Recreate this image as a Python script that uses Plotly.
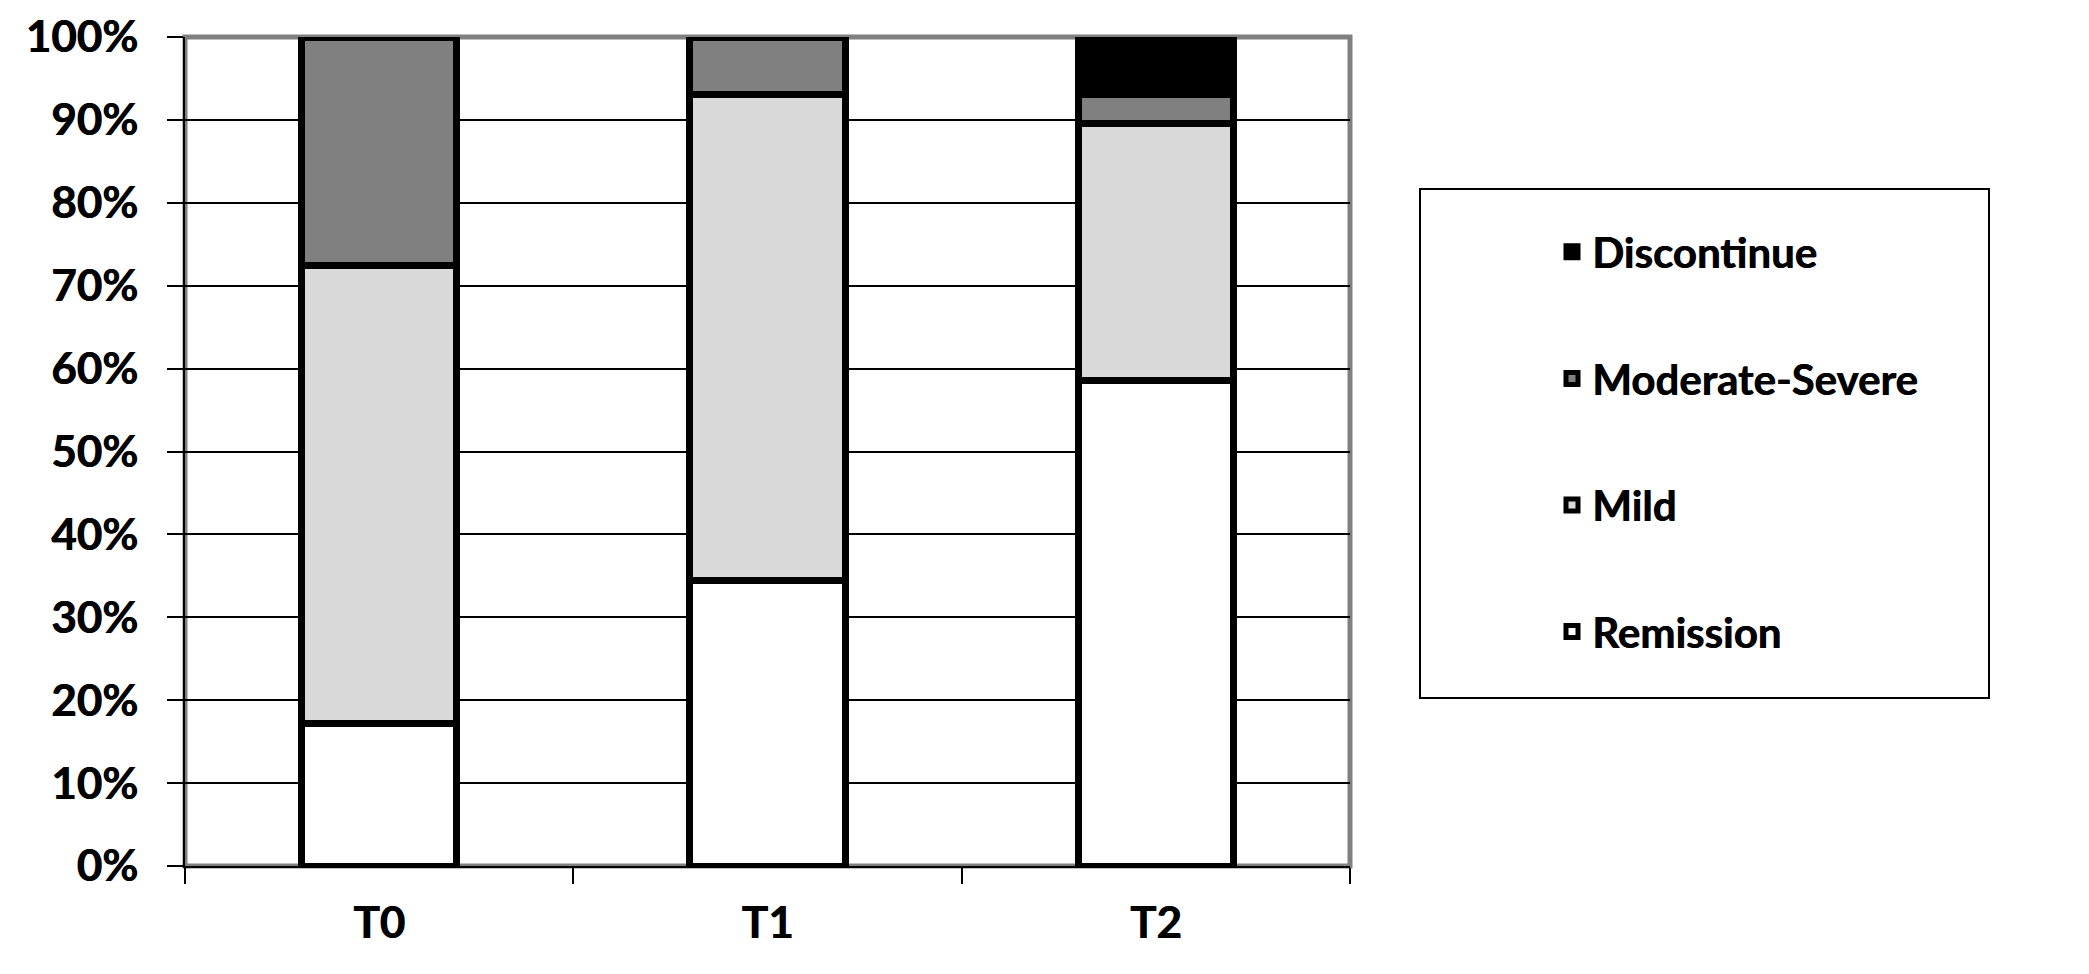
import plotly.graph_objects as go

categories = ["T0", "T1", "T2"]
series_names = ["Remission", "Mild", "Moderate-Severe", "Discontinue"]
remission = [0.172, 0.345, 0.586]
mild = [0.552, 0.586, 0.310]
moderate_severe = [0.276, 0.069, 0.035]
discontinue = [0.0, 0.0, 0.069]
series_values = [remission, mild, moderate_severe, discontinue]
series_colors = ["#FFFFFF", "#D9D9D9", "#808080", "#000000"]
legend_ranks = [4, 3, 2, 1]
y_tick_values = [i / 10 for i in range(11)]
y_tick_labels = [f"{i * 10}%" for i in range(11)]

FONT = "Lato, 'Open Sans', sans-serif"
SHADOW = "0.7px 0 0 black"

fig = go.Figure()
for name, vals, col, rk in zip(series_names, series_values, series_colors, legend_ranks):
    fig.add_trace(go.Bar(
        x=categories, y=vals, name=name,
        marker=dict(color=col, line=dict(color="black", width=7)),
        width=0.4, legendgroup=name, legendrank=rk,
    ))

# page offset from default body margin
OFF = 8
W, H = 2089 - OFF, 974 - OFF
# plot area in page pixels: x 185..1350, y 37..866
L, R, T, B = 185 - OFF, 2089 - 1350, 37 - OFF, 974 - 866
pw, ph = 1350 - 185, 866 - 37

def px_x(x):
    return (x - 185) / pw

def px_y(y):
    return (866 - y) / ph

fig.update_layout(
    width=W, height=H,
    margin=dict(l=L, r=R, t=T, b=B, pad=0, autoexpand=False),
    barmode="stack",
    plot_bgcolor="white", paper_bgcolor="white",
    font=dict(family=FONT, color="black", weight="bold"),
    legend=dict(
        x=px_x(1552), y=px_y(218), xanchor="left", yanchor="top",
        traceorder="grouped", tracegroupgap=69,
        font=dict(family=FONT, size=42, color="black", weight="bold", shadow=SHADOW),
        bgcolor="rgba(0,0,0,0)", borderwidth=0,
    ),
    xaxis=dict(
        showline=True, linecolor="black", linewidth=2, automargin=False,
        ticks="outside", ticklen=16, tickwidth=2, tickcolor="black",
        tickson="boundaries", showgrid=False,
        tickfont=dict(family=FONT, size=44, color="black", weight="bold", shadow=SHADOW),
        ticklabelstandoff=17,
    ),
    yaxis=dict(
        range=[0, 1], tickvals=y_tick_values, ticktext=y_tick_labels,
        showline=True, linecolor="black", linewidth=2, automargin=False,
        ticks="outside", ticklen=16, tickwidth=2, tickcolor="black",
        showgrid=True, gridcolor="black", gridwidth=2, zeroline=False,
        tickfont=dict(family=FONT, size=44, color="black", weight="bold", shadow=SHADOW),
        ticklabelstandoff=20,
    ),
    shapes=[
        dict(type="rect", xref="paper", yref="paper", x0=0, x1=1, y0=0, y1=1,
             line=dict(color="#808080", width=5), layer="below"),
        dict(type="rect", xref="paper", yref="paper",
             x0=px_x(1420), x1=px_x(1989), y0=px_y(698), y1=px_y(189),
             line=dict(color="black", width=2), fillcolor="white", layer="below"),
    ],
)

fig.write_html("out.html")
